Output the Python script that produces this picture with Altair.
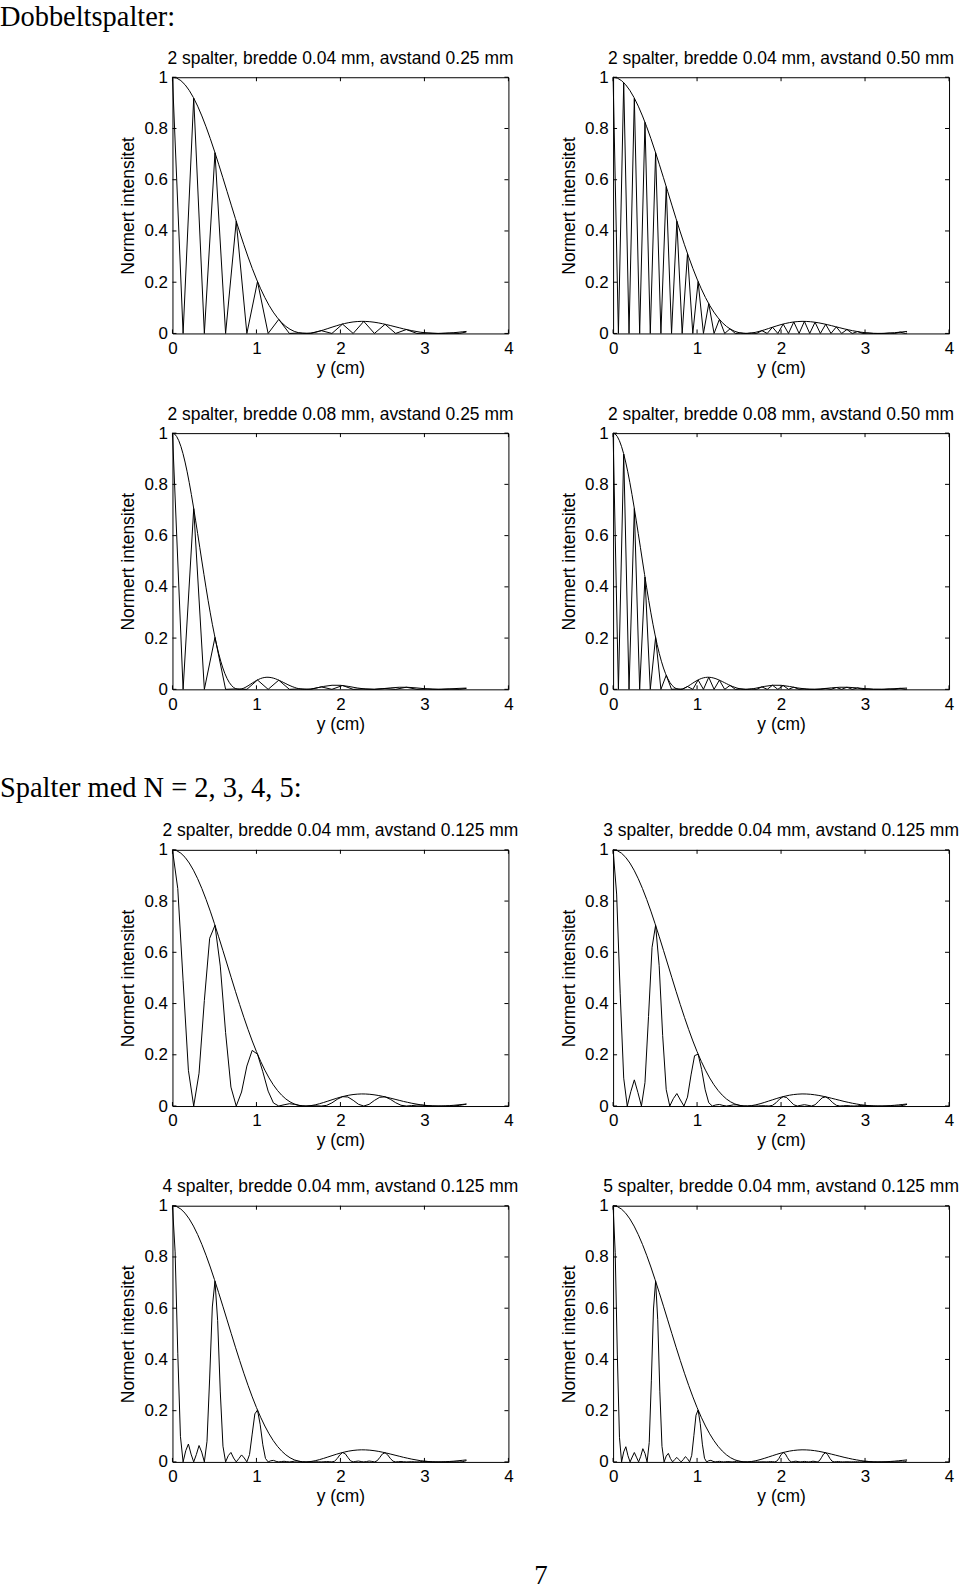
import altair as alt
import pandas as pd

FONT = "Liberation Sans"
SERIF = "Liberation Serif"
W, H = 337, 257
TICK = 4

x_ticks = [0, 1, 2, 3, 4]
y_ticks = [0, 0.2, 0.4, 0.6, 0.8, 1]

titles = [
    "2 spalter, bredde 0.04 mm, avstand 0.25 mm",
    "2 spalter, bredde 0.04 mm, avstand 0.50 mm",
    "2 spalter, bredde 0.08 mm, avstand 0.25 mm",
    "2 spalter, bredde 0.08 mm, avstand 0.50 mm",
    "2 spalter, bredde 0.04 mm, avstand 0.125 mm",
    "3 spalter, bredde 0.04 mm, avstand 0.125 mm",
    "4 spalter, bredde 0.04 mm, avstand 0.125 mm",
    "5 spalter, bredde 0.04 mm, avstand 0.125 mm",
]
section_1 = "Dobbeltspalter:"
section_2 = "Spalter med N = 2, 3, 4, 5:"
page_no = "7"

# envelope, slit width 0.04 mm
env04_x = [0.00, 0.05, 0.10, 0.15, 0.20, 0.25, 0.30, 0.35, 0.40, 0.45, 0.50, 0.55, 0.60, 0.65, 0.70,
           0.75, 0.80, 0.85, 0.90, 0.95, 1.00, 1.05, 1.10, 1.15, 1.20, 1.25, 1.30, 1.35, 1.40, 1.45,
           1.50, 1.55, 1.60, 1.65, 1.70, 1.75, 1.80, 1.85, 1.90, 1.95, 2.00, 2.05, 2.10, 2.15, 2.20,
           2.25, 2.30, 2.35, 2.40, 2.45, 2.50, 2.55, 2.60, 2.65, 2.70, 2.75, 2.80, 2.85, 2.90, 2.95,
           3.00, 3.05, 3.10, 3.15, 3.20, 3.25, 3.30, 3.35, 3.40, 3.45, 3.50]
env04_y = [1.0000, 0.9967, 0.9869, 0.9708, 0.9485, 0.9205, 0.8872, 0.8490, 0.8066, 0.7607, 0.7117,
           0.6605, 0.6078, 0.5544, 0.5008, 0.4478, 0.3961, 0.3462, 0.2986, 0.2539, 0.2124, 0.1744,
           0.1401, 0.1097, 0.0833, 0.0609, 0.0424, 0.0275, 0.0162, 0.0081, 0.0030, 0.0004, 0.0001,
           0.0017, 0.0047, 0.0089, 0.0138, 0.0191, 0.0245, 0.0297, 0.0346, 0.0387, 0.0422, 0.0448,
           0.0464, 0.0472, 0.0469, 0.0458, 0.0439, 0.0413, 0.0380, 0.0344, 0.0304, 0.0263, 0.0222,
           0.0180, 0.0144, 0.0108, 0.0079, 0.0050, 0.0029, 0.0014, 0.0004, 0.0000, 0.0001, 0.0007,
           0.0017, 0.0029, 0.0045, 0.0062, 0.0079]

# envelope, slit width 0.08 mm
env08_x = [0.000, 0.025, 0.050, 0.075, 0.100, 0.125, 0.150, 0.175, 0.200, 0.225, 0.250, 0.275, 0.300,
           0.325, 0.350, 0.375, 0.400, 0.425, 0.450, 0.475, 0.500, 0.525, 0.550, 0.575, 0.600, 0.625,
           0.650, 0.675, 0.700, 0.725, 0.750, 0.775, 0.800, 0.825, 0.850, 0.875, 0.900, 0.925, 0.950,
           0.975, 1.000, 1.025, 1.050, 1.075, 1.100, 1.125, 1.150, 1.175, 1.200, 1.225, 1.250, 1.275,
           1.300, 1.325, 1.350, 1.375, 1.400, 1.425, 1.450, 1.475, 1.500, 1.525, 1.550, 1.575, 1.600,
           1.625, 1.650, 1.675, 1.700, 1.725, 1.750, 1.8, 1.9, 2.0, 2.1, 2.2, 2.3, 2.4, 2.5, 2.6, 2.7,
           2.8, 2.9, 3.0, 3.1, 3.2, 3.3, 3.4, 3.5]
env08_y = [1.0000, 0.9967, 0.9869, 0.9708, 0.9485, 0.9205, 0.8872, 0.8490, 0.8066, 0.7607, 0.7117,
           0.6605, 0.6078, 0.5544, 0.5008, 0.4478, 0.3961, 0.3462, 0.2986, 0.2539, 0.2124, 0.1744,
           0.1401, 0.1097, 0.0833, 0.0609, 0.0424, 0.0275, 0.0162, 0.0081, 0.0030, 0.0004, 0.0001,
           0.0017, 0.0047, 0.0089, 0.0138, 0.0191, 0.0245, 0.0297, 0.0346, 0.0387, 0.0422, 0.0448,
           0.0464, 0.0472, 0.0469, 0.0458, 0.0439, 0.0413, 0.0380, 0.0344, 0.0304, 0.0263, 0.0222,
           0.0180, 0.0144, 0.0108, 0.0079, 0.0050, 0.0029, 0.0014, 0.0004, 0.0000, 0.0001, 0.0007,
           0.0017, 0.0029, 0.0045, 0.0062, 0.0079, 0.0113, 0.0159, 0.0157, 0.0112, 0.0053, 0.0010,
           0.0001, 0.0024, 0.0058, 0.0081, 0.0080, 0.0057, 0.0026, 0.0004, 0.0001, 0.0015, 0.0036,
           0.0049]

# fringe positions, spacing 0.25 mm
grid_a = [0, 0.1266, 0.2531, 0.3797, 0.5063, 0.6328, 0.7594, 0.8859, 1.0125, 1.1391, 1.2656, 1.3922,
          1.5188, 1.6453, 1.7719, 1.8984, 2.0250, 2.1516, 2.2781, 2.4047, 2.5313, 2.6578, 2.7844,
          2.9109, 3.0375, 3.1641, 3.2906, 3.4172, 3.5]
# fringe positions, spacing 0.50 mm (also used for N = 2, 0.125 mm)
grid_b = [0, 0.0633, 0.1266, 0.1898, 0.2531, 0.3164, 0.3797, 0.4430, 0.5063, 0.5695, 0.6328, 0.6961,
          0.7594, 0.8227, 0.8859, 0.9492, 1.0125, 1.0758, 1.1391, 1.2023, 1.2656, 1.3289, 1.3922,
          1.4555, 1.5188, 1.5820, 1.6453, 1.7086, 1.7719, 1.8352, 1.8984, 1.9617, 2.0250, 2.0883,
          2.1516, 2.2148, 2.2781, 2.3414, 2.4047, 2.4680, 2.5313, 2.5945, 2.6578, 2.7211, 2.7844,
          2.8477, 2.9109, 2.9742, 3.0375, 3.1008, 3.1641, 3.2273, 3.2906, 3.3539, 3.4172, 3.4805, 3.5]
grid_n3 = [0, 0.0422, 0.0844, 0.1266, 0.1688, 0.2110, 0.2531, 0.2953, 0.3375, 0.3797, 0.4219, 0.4641,
           0.5063, 0.5485, 0.5906, 0.6328, 0.6750, 0.7172, 0.7594, 0.8016, 0.8438, 0.8859, 0.9281,
           0.9703, 1.0125, 1.0547, 1.0969, 1.1391, 1.1813, 1.2235, 1.2656, 1.3078, 1.3500, 1.3922,
           1.4344, 1.4766, 1.5188, 1.5610, 1.6031, 1.6453, 1.6875, 1.7297, 1.7719, 1.8141, 1.8563,
           1.8984, 1.9406, 1.9828, 2.0250, 2.0672, 2.1094, 2.1516, 2.1938, 2.2360, 2.2781, 2.3203,
           2.3625, 2.4047, 2.4469, 2.4891, 2.5313, 2.5735, 2.6156, 2.6578, 2.7000, 2.7422, 2.7844,
           2.8266, 2.8688, 2.9109, 2.9531, 2.9953, 3.0375, 3.0797, 3.1219, 3.1641, 3.2063, 3.2485,
           3.2906, 3.3328, 3.3750, 3.4172, 3.4594, 3.5]
grid_n4 = [0, 0.0316, 0.0633, 0.0949, 0.1266, 0.1582, 0.1898, 0.2215, 0.2531, 0.2848, 0.3164, 0.3481,
           0.3797, 0.4113, 0.4430, 0.4746, 0.5063, 0.5379, 0.5695, 0.6012, 0.6328, 0.6645, 0.6961,
           0.7277, 0.7594, 0.7910, 0.8227, 0.8543, 0.8859, 0.9176, 0.9492, 0.9809, 1.0125, 1.0441,
           1.0758, 1.1074, 1.1391, 1.1707, 1.2023, 1.2340, 1.2656, 1.2973, 1.3289, 1.3605, 1.3922,
           1.4238, 1.4555, 1.4871, 1.5188, 1.5504, 1.5820, 1.6137, 1.6453, 1.6770, 1.7086, 1.7402,
           1.7719, 1.8035, 1.8352, 1.8668, 1.8984, 1.9301, 1.9617, 1.9934, 2.0250, 2.0566, 2.0883,
           2.1199, 2.1516, 2.1832, 2.2148, 2.2465, 2.2781, 2.3098, 2.3414, 2.3730, 2.4047, 2.4363,
           2.4680, 2.4996, 2.5313, 2.5629, 2.5945, 2.6262, 2.6578, 2.6895, 2.7211, 2.7527, 2.7844,
           2.8160, 2.8477, 2.8793, 2.9109, 2.9426, 2.9742, 3.0059, 3.0375, 3.0691, 3.1008, 3.1324,
           3.1641, 3.1957, 3.2273, 3.2590, 3.2906, 3.3223, 3.3539, 3.3855, 3.4172, 3.4488, 3.4805, 3.5]
grid_n5 = [0, 0.0253, 0.0506, 0.0759, 0.1013, 0.1266, 0.1519, 0.1772, 0.2025, 0.2278, 0.2531, 0.2784,
           0.3038, 0.3291, 0.3544, 0.3797, 0.4050, 0.4303, 0.4556, 0.4809, 0.5063, 0.5316, 0.5569,
           0.5822, 0.6075, 0.6328, 0.6581, 0.6834, 0.7088, 0.7341, 0.7594, 0.7847, 0.8100, 0.8353,
           0.8606, 0.8859, 0.9113, 0.9366, 0.9619, 0.9872, 1.0125, 1.0378, 1.0631, 1.0884, 1.1138,
           1.1391, 1.1644, 1.1897, 1.2150, 1.2403, 1.2656, 1.2909, 1.3163, 1.3416, 1.3669, 1.3922,
           1.4175, 1.4428, 1.4681, 1.4934, 1.5188, 1.5441, 1.5694, 1.5947, 1.6200, 1.6453, 1.6706,
           1.6959, 1.7213, 1.7466, 1.7719, 1.7972, 1.8225, 1.8478, 1.8731, 1.8984, 1.9238, 1.9491,
           1.9744, 1.9997, 2.0250, 2.0503, 2.0756, 2.1009, 2.1263, 2.1516, 2.1769, 2.2022, 2.2275,
           2.2528, 2.2781, 2.3034, 2.3288, 2.3541, 2.3794, 2.4047, 2.4300, 2.4553, 2.4806, 2.5059,
           2.5313, 2.5566, 2.5819, 2.6072, 2.6325, 2.6578, 2.6831, 2.7084, 2.7338, 2.7591, 2.7844,
           2.8097, 2.8350, 2.8603, 2.8856, 2.9109, 2.9363, 2.9616, 2.9869, 3.0122, 3.0375, 3.0628,
           3.0881, 3.1134, 3.1388, 3.1641, 3.1894, 3.2147, 3.2400, 3.2653, 3.2906, 3.3159, 3.3413,
           3.3666, 3.3919, 3.4172, 3.4425, 3.4678, 3.4931, 3.5]

p1_y = [1, 0, 0.9186, 0, 0.7053, 0, 0.4380, 0, 0.2025, 0, 0.0548, 0, 0.0017, 0, 0.0110, 0, 0.0365, 0,
        0.0471, 0, 0.0358, 0, 0.0153, 0, 0.0017, 0, 0.0014, 0, 0.0058]
p2_y = [1, 0, 0.9783, 0, 0.9186, 0, 0.8238, 0, 0.7053, 0, 0.5728, 0, 0.4380, 0, 0.3120, 0, 0.2025, 0,
        0.1163, 0, 0.0548, 0, 0.0180, 0, 0.0017, 0, 0.0015, 0, 0.0110, 0, 0.0244, 0, 0.0365, 0,
        0.0448, 0, 0.0471, 0, 0.0437, 0, 0.0358, 0, 0.0257, 0, 0.0153, 0, 0.0073, 0, 0.0017, 0, 0, 0,
        0.0014, 0, 0.0051, 0, 0.0017]
p3_y = [1, 0, 0.7053, 0, 0.2025, 0, 0.0017, 0, 0.0365, 0, 0.0358, 0, 0.0017, 0, 0.0095, 0, 0.0149, 0,
        0.0017, 0, 0.0034, 0, 0.0082, 0, 0.0016, 0, 0.0014, 0, 0.0036]
p4_y = [1, 0, 0.9186, 0, 0.7053, 0, 0.4380, 0, 0.2025, 0, 0.0548, 0, 0.0017, 0, 0.0110, 0, 0.0365, 0,
        0.0471, 0, 0.0358, 0, 0.0153, 0, 0.0017, 0, 0.0014, 0, 0.0095, 0, 0.0159, 0, 0.0149, 0,
        0.0082, 0, 0.0017, 0, 0.0001, 0, 0.0034, 0, 0.0071, 0, 0.0082, 0, 0.0054, 0, 0.0016, 0,
        0.0001, 0, 0.0014, 0, 0.0038, 0, 0.0011]
p5_y = [1, 0.8486, 0.4892, 0.1395, 0, 0.1281, 0.4119, 0.6548, 0.7053, 0.5462, 0.2864, 0.0739, 0,
        0.0547, 0.1560, 0.2171, 0.2025, 0.1338, 0.0582, 0.0120, 0, 0.0049, 0.0090, 0.0064, 0.0017, 0,
        0.0008, 0.0008, 0, 0.0026, 0.0122, 0.0263, 0.0365, 0.0353, 0.0224, 0.0068, 0, 0.0067, 0.0219,
        0.0342, 0.0358, 0.0263, 0.0129, 0.0030, 0, 0.0016, 0.0037, 0.0034, 0.0017, 0.0003, 0, 0.0001,
        0, 0.0004, 0.0026, 0.0061, 0.0073]
p6_y = [1, 0.8274, 0.4403, 0.1087, 0, 0.0561, 0.1021, 0.0530, 0, 0.0915, 0.3495, 0.6194, 0.7053,
        0.5490, 0.2745, 0.0636, 0, 0.0287, 0.0487, 0.0235, 0, 0.0347, 0.1215, 0.1966, 0.2025, 0.1420,
        0.0632, 0.0129, 0, 0.0043, 0.0061, 0.0024, 0, 0.0020, 0.0047, 0.0045, 0.0017, 0.0002, 0,
        0.0002, 0, 0.0004, 0.0012, 0.0009, 0, 0.0027, 0.0128, 0.0273, 0.0365, 0.0331, 0.0190, 0.0050,
        0, 0.0028, 0.0052, 0.0028, 0, 0.0049, 0.0184, 0.0321, 0.0358, 0.0270, 0.0129, 0.0029, 0,
        0.0011, 0.0017, 0.0007, 0, 0.0008, 0.0022, 0.0026, 0.0017, 0.0007, 0.0001, 0, 0, 0, 0.0002,
        0.0001, 0, 0.0006, 0.0029, 0.0065]
p7_y = [1, 0.8199, 0.4243, 0.1000, 0, 0.0437, 0.0698, 0.0304, 0, 0.0292, 0.0640, 0.0384, 0, 0.0806,
        0.3274, 0.6047, 0.7053, 0.5525, 0.2731, 0.0614, 0, 0.0244, 0.0370, 0.0153, 0, 0.0132, 0.0273,
        0.0155, 0, 0.0286, 0.1085, 0.1874, 0.2025, 0.1469, 0.0669, 0.0137, 0, 0.0045, 0.0060, 0.0022,
        0, 0.0014, 0.0025, 0.0011, 0, 0.0012, 0.0032, 0.0035, 0.0017, 0.0003, 0, 0, 0, 0.0001, 0.0004,
        0.0003, 0, 0.0005, 0.0013, 0.0009, 0, 0.0028, 0.0131, 0.0279, 0.0365, 0.0322, 0.0177, 0.0044,
        0, 0.0021, 0.0034, 0.0015, 0, 0.0015, 0.0034, 0.0020, 0, 0.0043, 0.0171, 0.0312, 0.0358,
        0.0274, 0.0131, 0.0029, 0, 0.0010, 0.0015, 0.0006, 0, 0.0004, 0.0008, 0.0004, 0, 0.0005,
        0.0017, 0.0022, 0.0017, 0.0008, 0.0002, 0, 0, 0, 0, 0, 0, 0.0001, 0.0002, 0.0002, 0, 0.0006,
        0.0031, 0.0053]
p8_y = [1, 0.8165, 0.4175, 0.0962, 0, 0.0391, 0.0593, 0.0242, 0, 0.0191, 0.0367, 0.0185, 0, 0.0218,
        0.0516, 0.0330, 0, 0.0755, 0.3164, 0.5969, 0.7053, 0.5551, 0.2736, 0.0608, 0, 0.0229, 0.0333,
        0.0131, 0, 0.0095, 0.0175, 0.0084, 0, 0.0091, 0.0205, 0.0125, 0, 0.0258, 0.1022, 0.1822,
        0.2025, 0.1501, 0.0693, 0.0144, 0, 0.0047, 0.0062, 0.0022, 0, 0.0013, 0.0022, 0.0009, 0,
        0.0008, 0.0014, 0.0007, 0, 0.0009, 0.0026, 0.0030, 0.0017, 0.0005, 0.0001, 0, 0, 0.0001,
        0.0002, 0.0001, 0, 0.0002, 0.0004, 0.0003, 0, 0.0005, 0.0013, 0.0010, 0, 0.0029, 0.0134,
        0.0283, 0.0365, 0.0316, 0.0170, 0.0041, 0, 0.0018, 0.0028, 0.0012, 0, 0.0010, 0.0019, 0.0010,
        0, 0.0011, 0.0027, 0.0017, 0, 0.0040, 0.0165, 0.0307, 0.0358, 0.0277, 0.0133, 0.0029, 0,
        0.0010, 0.0014, 0.0005, 0, 0.0004, 0.0006, 0.0003, 0, 0.0003, 0.0005, 0.0003, 0, 0.0004,
        0.0014, 0.0020, 0.0017, 0.0009, 0.0003, 0, 0, 0, 0, 0, 0, 0, 0, 0, 0, 0, 0.0003, 0.0002, 0,
        0.0007, 0.0032, 0.0040]

panels = [
    (titles[0], env04_x, env04_y, grid_a, p1_y),
    (titles[1], env04_x, env04_y, grid_b, p2_y),
    (titles[2], env08_x, env08_y, grid_a, p3_y),
    (titles[3], env08_x, env08_y, grid_b, p4_y),
    (titles[4], env04_x, env04_y, grid_b, p5_y),
    (titles[5], env04_x, env04_y, grid_n3, p6_y),
    (titles[6], env04_x, env04_y, grid_n4, p7_y),
    (titles[7], env04_x, env04_y, grid_n5, p8_y),
]

xt_df = pd.DataFrame({"pos": x_ticks})
yt_df = pd.DataFrame({"inten": y_ticks})


def panel(title, ex, ey, px, py):
    env = pd.DataFrame({"pos": ex, "inten": ey})
    pat = pd.DataFrame({"pos": px, "inten": py})
    xs = alt.Scale(domain=[0, 4], nice=False, zero=False)
    ys = alt.Scale(domain=[0, 1], nice=False, zero=False)
    line = dict(color="black", strokeWidth=1)

    l_env = alt.Chart(env).mark_line(**line).encode(
        x=alt.X("pos:Q", scale=xs, axis=alt.Axis(
            values=x_ticks, format="~g", ticks=False, domain=False, grid=False,
            labelFlush=False, labelPadding=7, title="y (cm)", titlePadding=3)),
        y=alt.Y("inten:Q", scale=ys, axis=alt.Axis(
            values=y_ticks, format="~g", ticks=False, domain=False, grid=False,
            labelPadding=5, title="Normert intensitet", titlePadding=6)),
    )
    l_pat = alt.Chart(pat).mark_line(**line).encode(
        x=alt.X("pos:Q", scale=xs), y=alt.Y("inten:Q", scale=ys))
    rule = dict(color="black", strokeWidth=1)
    t_bottom = alt.Chart(xt_df).mark_rule(**rule).encode(
        x=alt.X("pos:Q", scale=xs), y=alt.value(H), y2=alt.value(H - TICK))
    t_top = alt.Chart(xt_df).mark_rule(**rule).encode(
        x=alt.X("pos:Q", scale=xs), y=alt.value(0), y2=alt.value(TICK))
    t_left = alt.Chart(yt_df).mark_rule(**rule).encode(
        y=alt.Y("inten:Q", scale=ys), x=alt.value(0), x2=alt.value(TICK))
    t_right = alt.Chart(yt_df).mark_rule(**rule).encode(
        y=alt.Y("inten:Q", scale=ys), x=alt.value(W), x2=alt.value(W - TICK))
    return alt.layer(l_env, l_pat, t_bottom, t_top, t_left, t_right).properties(
        width=W, height=H,
        title=alt.TitleParams(title, font=FONT, fontSize=17.5, fontWeight="normal", color="black",
                              anchor="middle", frame="group", baseline="alphabetic", offset=6,
                              dy=19),
    )


charts = [panel(*p) for p in panels]

sec_title = dict(font=SERIF, fontSize=28.5, fontWeight="normal", color="black", anchor="start",
                 frame="group", dx=-173, dy=30, baseline="alphabetic")
sec1 = alt.concat(charts[0], charts[1], charts[2], charts[3], columns=2,
                  spacing={"row": 100, "column": 105}, bounds="flush",
                  title=alt.TitleParams(section_1, offset=25, **sec_title))
sec2 = alt.concat(charts[4], charts[5], charts[6], charts[7], columns=2,
                  spacing={"row": 100, "column": 105}, bounds="flush",
                  title=alt.TitleParams(section_2, offset=26, **sec_title))

chart = alt.vconcat(sec1, sec2, spacing=41,
                    title=alt.TitleParams(page_no, orient="bottom", font=SERIF, fontSize=27,
                                          fontWeight="normal", color="black", anchor="start",
                                          frame="group", dx=363, baseline="alphabetic",
                                          offset=78)).properties(
    padding={"left": 0, "top": 0, "right": 0, "bottom": 0},
    background="white",
).configure_view(stroke="black", strokeWidth=1).configure_axis(
    labelFont=FONT, labelFontSize=17, labelColor="black", titleFont=FONT, titleFontSize=17.5,
    titleFontWeight="normal", titleColor="black",
)

chart.save("out.html", embed_options={"renderer": "svg", "actions": False})
